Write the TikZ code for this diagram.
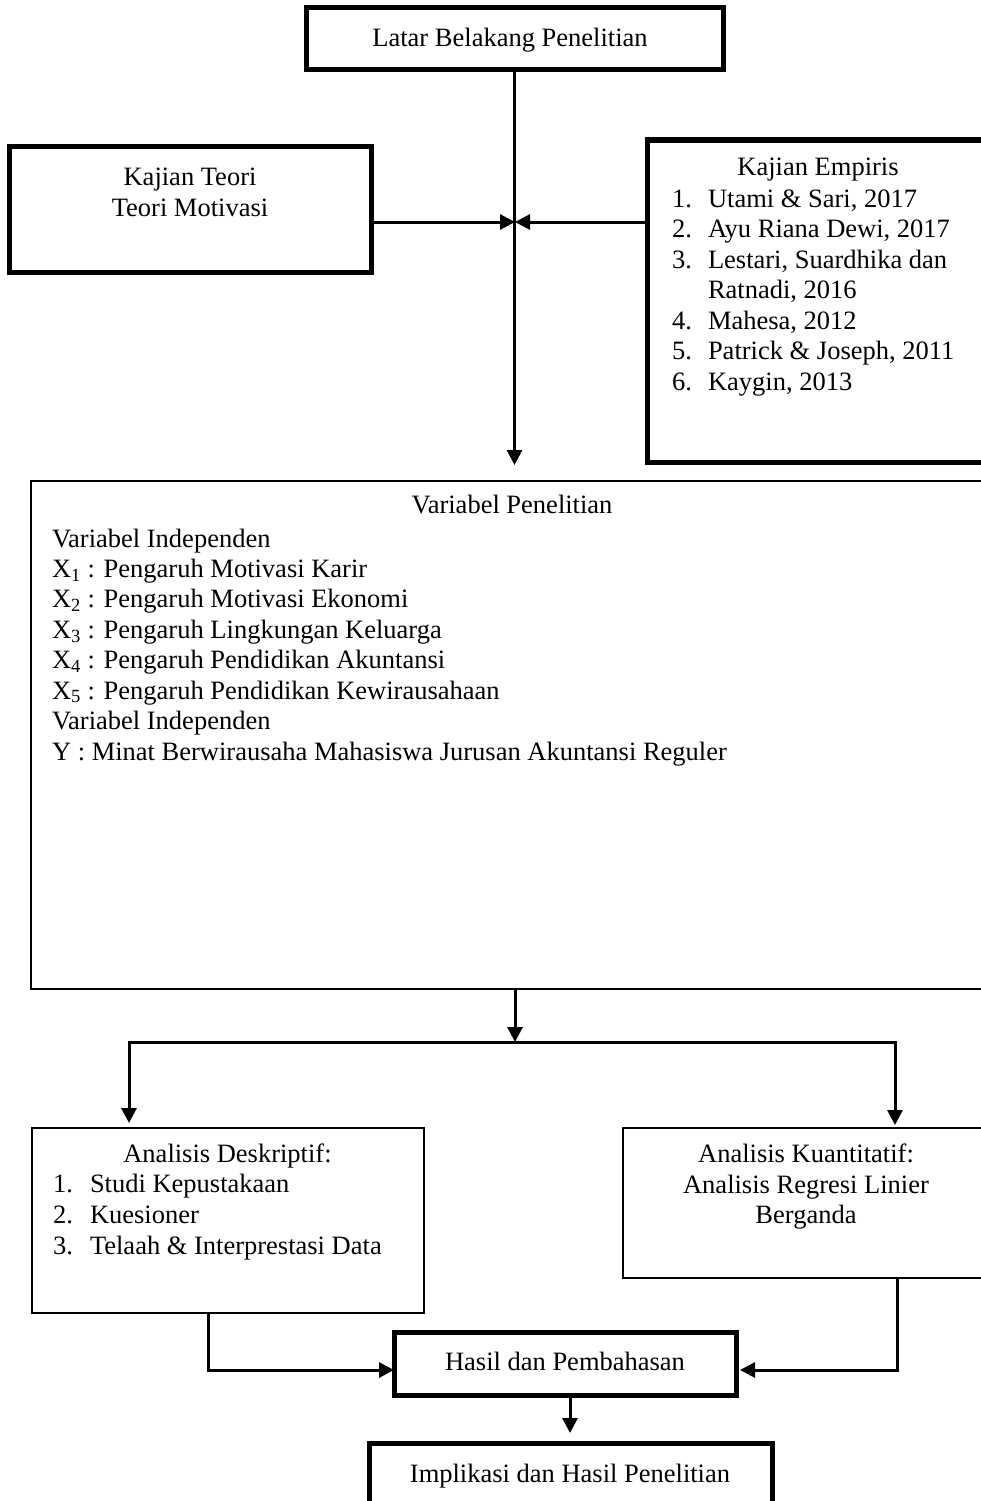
\documentclass[tikz,border=0pt]{standalone}
\usepackage{fontspec}
\setmainfont{Liberation Serif}
\usetikzlibrary{arrows.meta}
\begin{document}
\begin{tikzpicture}[x=1pt,y=-1pt,
  thickbox/.style={draw, line width=5pt, inner sep=0pt, outer sep=0pt, rectangle, anchor=north west},
  thinbox/.style={draw, line width=2pt, inner sep=0pt, outer sep=0pt, rectangle, anchor=north west},
  conn/.style={line width=3pt, -{Triangle[length=15pt,width=15pt]}},
  dconn/.style={line width=3pt, {Triangle[length=15pt,width=15pt]}-{Triangle[length=15pt,width=15pt]}},
  txt/.style={inner sep=0pt, outer sep=0pt, font=\fontsize{26.5pt}{30.5pt}\selectfont},
  ctxt/.style={txt, anchor=base},
  ltxt/.style={txt, anchor=base west},
]
\useasboundingbox (0,0) rectangle (981,1501);
\fill[white] (0,0) rectangle (981,1501);
\clip (0,0) rectangle (981,1501);

% boxes
\node[thickbox, minimum width=417pt, minimum height=62pt] (top) at (306,8) {};
\node[thickbox, minimum width=362pt, minimum height=126pt] (teori) at (9,146) {};
\node[thickbox, minimum width=350pt, minimum height=322pt] (empiris) at (647,140) {};
\node[thinbox, minimum width=965pt, minimum height=508pt] (var) at (31,481) {};
\node[thinbox, minimum width=392pt, minimum height=185pt] (desk) at (32,1128) {};
\node[thinbox, minimum width=370pt, minimum height=150pt] (kuan) at (623,1128) {};
\node[thickbox, minimum width=342pt, minimum height=63pt] (hasil) at (394,1332) {};
\node[thickbox, minimum width=403pt, minimum height=80pt] (impl) at (369,1443) {};

% helper coordinates
\coordinate (hub) at (515,222);
\coordinate (split) at (515,1042);
\coordinate (bl) at (129,1042);
\coordinate (br) at (895,1042);
\coordinate (dl) at (208,1370);
\coordinate (dr) at (897,1370);
\coordinate (hd) at (570,1400);

% connectors
\draw[line width=3pt, shorten >=16pt, -{Triangle[length=15pt,width=15pt]}] (top.south) -- (top.south |- var.north);
\draw[conn] (teori.east |- hub) -- (hub);
\draw[conn] (empiris.west |- hub) -- (hub);
\draw[conn] (split |- var.south) -- (split);
\draw[dconn, shorten <=5pt, shorten >=3pt] (bl |- desk.north) -- (bl) -- (br) -- (br |- kuan.north);
\draw[conn] (dl |- desk.south) -- (dl) -- (hasil.west |- dl);
\draw[conn, shorten >=4pt] (dr |- kuan.south) -- (dr) -- (hasil.east |- dr);
\draw[conn, shorten >=10pt] (hd |- hasil.south) -- (hd |- impl.north);

% texts
\node[ctxt] (ttop) at (510,47) {Latar Belakang Penelitian};
\node[ctxt] (tteori1) at (190,185) {Kajian Teori};
\node[ctxt] (tteori2) at (190,216) {Teori Motivasi};

\node[ctxt] (temp) at (818,175) {Kajian Empiris};
\node[ltxt] (n1) at (672,207) {1.};
\node[ltxt] (e1) at (708,207) {Utami \& Sari, 2017};
\node[ltxt] (n2) at (672,237.5) {2.};
\node[ltxt] (e2) at (708,237.5) {Ayu Riana Dewi, 2017};
\node[ltxt] (n3) at (672,268) {3.};
\node[ltxt] (e3) at (708,268) {Lestari, Suardhika dan};
\node[ltxt] (e3b) at (708,298.5) {Ratnadi, 2016};
\node[ltxt] (n4) at (672,329) {4.};
\node[ltxt] (e4) at (708,329) {Mahesa, 2012};
\node[ltxt] (n5) at (672,359.5) {5.};
\node[ltxt] (e5) at (708,359.5) {Patrick \& Joseph, 2011};
\node[ltxt] (n6) at (672,390) {6.};
\node[ltxt] (e6) at (708,390) {Kaygin, 2013};

\node[ctxt] (tvar) at (512,513) {Variabel Penelitian};
\node[ltxt] (v1) at (52,547) {Variabel Independen};
\node[ltxt] (v2) at (52,577.4) {X\textsubscript{1} : Pengaruh Motivasi Karir};
\node[ltxt] (v3) at (52,607.9) {X\textsubscript{2} : Pengaruh Motivasi Ekonomi};
\node[ltxt] (v4) at (52,638.3) {X\textsubscript{3} : Pengaruh Lingkungan Keluarga};
\node[ltxt] (v5) at (52,668.7) {X\textsubscript{4} : Pengaruh Pendidikan Akuntansi};
\node[ltxt] (v6) at (52,699.1) {X\textsubscript{5} : Pengaruh Pendidikan Kewirausahaan};
\node[ltxt] (v7) at (52,729.6) {Variabel Independen};
\node[ltxt] (v8) at (52,760) {Y : Minat Berwirausaha Mahasiswa Jurusan Akuntansi Reguler};

\node[ctxt] (tdesk) at (227.5,1162) {Analisis Deskriptif:};
\node[ltxt] (d1n) at (53,1192) {1.};
\node[ltxt] (d1) at (90,1192) {Studi Kepustakaan};
\node[ltxt] (d2n) at (53,1223) {2.};
\node[ltxt] (d2) at (90,1223) {Kuesioner};
\node[ltxt] (d3n) at (53,1254) {3.};
\node[ltxt] (d3) at (90,1254) {Telaah \& Interprestasi Data};

\node[ctxt] (tkuan1) at (806,1162) {Analisis Kuantitatif:};
\node[ctxt] (tkuan2) at (806,1193) {Analisis Regresi Linier};
\node[ctxt] (tkuan3) at (806,1223) {Berganda};

\node[ctxt] (thasil) at (565,1370) {Hasil dan Pembahasan};
\node[ctxt] (timpl) at (570,1482) {Implikasi dan Hasil Penelitian};
\end{tikzpicture}
\end{document}
